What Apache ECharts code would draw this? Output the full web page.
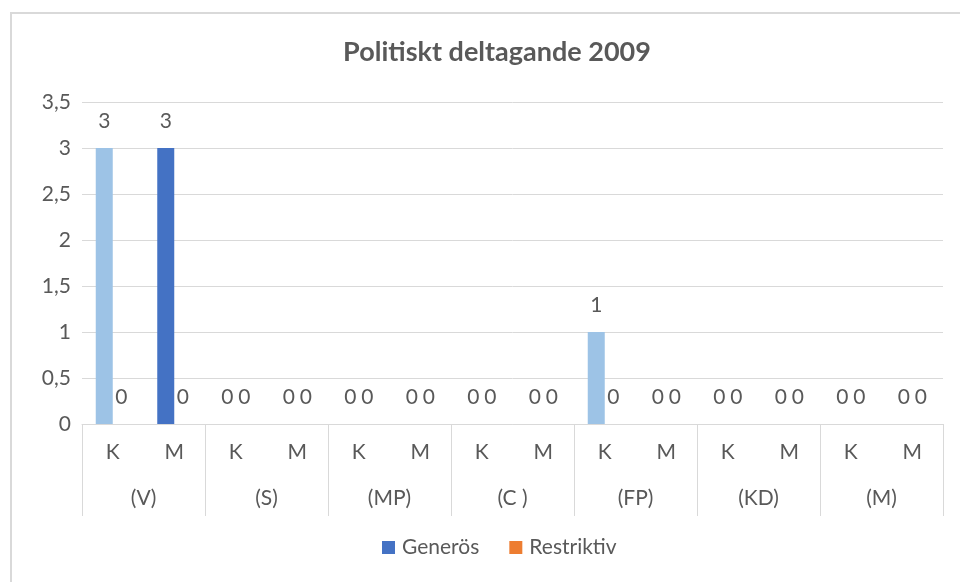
<!DOCTYPE html>
<html>
<head>
<meta charset="utf-8">
<script src="https://cdn.jsdelivr.net/npm/echarts@6/dist/echarts.min.js"></script>
<style>
  html, body { margin: 0; padding: 0; background: #fff; }
  #chart { width: 960px; height: 582px; }
</style>
</head>
<body>
<div id="chart"></div>
<script>
const subCategories = ['K', 'M', 'K', 'M', 'K', 'M', 'K', 'M', 'K', 'M', 'K', 'M', 'K', 'M']
const parties = ['(V)', '(S)', '(MP)', '(C )', '(FP)', '(KD)', '(M)']
const generos = [3, 3, 0, 0, 0, 0, 0, 0, 1, 0, 0, 0, 0, 0]
const restriktiv = [0, 0, 0, 0, 0, 0, 0, 0, 0, 0, 0, 0, 0, 0]
const yTicks = [0, 0.5, 1, 1.5, 2, 2.5, 3, 3.5]

const colorK = '#9DC3E6'
const colorM = '#4472C4'
const textColor = '#595959'
const font = 'Lato, "Open Sans", sans-serif'
const fs = 21

const chart = echarts.init(document.getElementById('chart'))
chart.setOption({
  animation: false,
  textStyle: { fontFamily: font },
  title: {
    text: 'Politiskt deltagande 2009',
    left: 492,
    textAlign: 'center',
    top: 34,
    textStyle: { color: textColor, fontSize: 27, fontWeight: 'bold', fontFamily: font }
  },
  legend: {
    bottom: 19,
    left: 377,
    itemWidth: 13,
    itemHeight: 13,
    itemGap: 30,
    icon: 'rect',
    textStyle: { color: textColor, fontSize: fs, fontFamily: font, padding: [0, 0, 0, 2] },
    data: [
      { name: 'Generös', itemStyle: { color: colorM } },
      { name: 'Restriktiv', itemStyle: { color: '#ED7D31' } }
    ]
  },
  graphic: [{
    type: 'polyline',
    shape: { points: [[11, 600], [11, 13], [970, 13]] },
    style: { stroke: '#D9D9D9', lineWidth: 2, fill: null }
  }],
  grid: { left: 82, right: 17, top: 102, bottom: 158, containLabel: false },
  xAxis: [
    {
      type: 'category',
      data: subCategories,
      axisLine: { lineStyle: { color: '#D9D9D9' } },
      axisTick: { show: false },
      axisLabel: { color: textColor, fontSize: fs, margin: 18, fontFamily: font }
    },
    {
      type: 'category',
      data: parties,
      position: 'bottom',
      axisLine: { show: false },
      axisTick: { show: true, length: 92, lineStyle: { color: '#D9D9D9' } },
      axisLabel: { color: textColor, fontSize: fs, margin: 64, fontFamily: font }
    }
  ],
  yAxis: {
    type: 'value',
    min: yTicks[0],
    max: yTicks[yTicks.length - 1],
    interval: 0.5,
    axisLine: { show: false },
    axisTick: { show: false },
    splitLine: { lineStyle: { color: '#D9D9D9' } },
    axisLabel: {
      color: textColor,
      fontSize: fs,
      margin: 11,
      fontFamily: font,
      formatter: v => String(v).replace('.', ',')
    }
  },
  series: [
    {
      name: 'Generös',
      type: 'bar',
      xAxisIndex: 0,
      barWidth: 17,
      barGap: '0%',
      data: generos.map((v, i) => ({
        value: v,
        itemStyle: { color: i % 2 === 0 ? colorK : colorM }
      })),
      label: { show: true, position: 'top', distance: 16, color: textColor, fontSize: fs, fontFamily: font }
    },
    {
      name: 'Restriktiv',
      type: 'bar',
      xAxisIndex: 0,
      barWidth: 17,
      barGap: '0%',
      itemStyle: { color: '#ED7D31' },
      data: restriktiv,
      label: { show: true, position: 'top', distance: 16, color: textColor, fontSize: fs, fontFamily: font }
    }
  ]
})
</script>
</body>
</html>
